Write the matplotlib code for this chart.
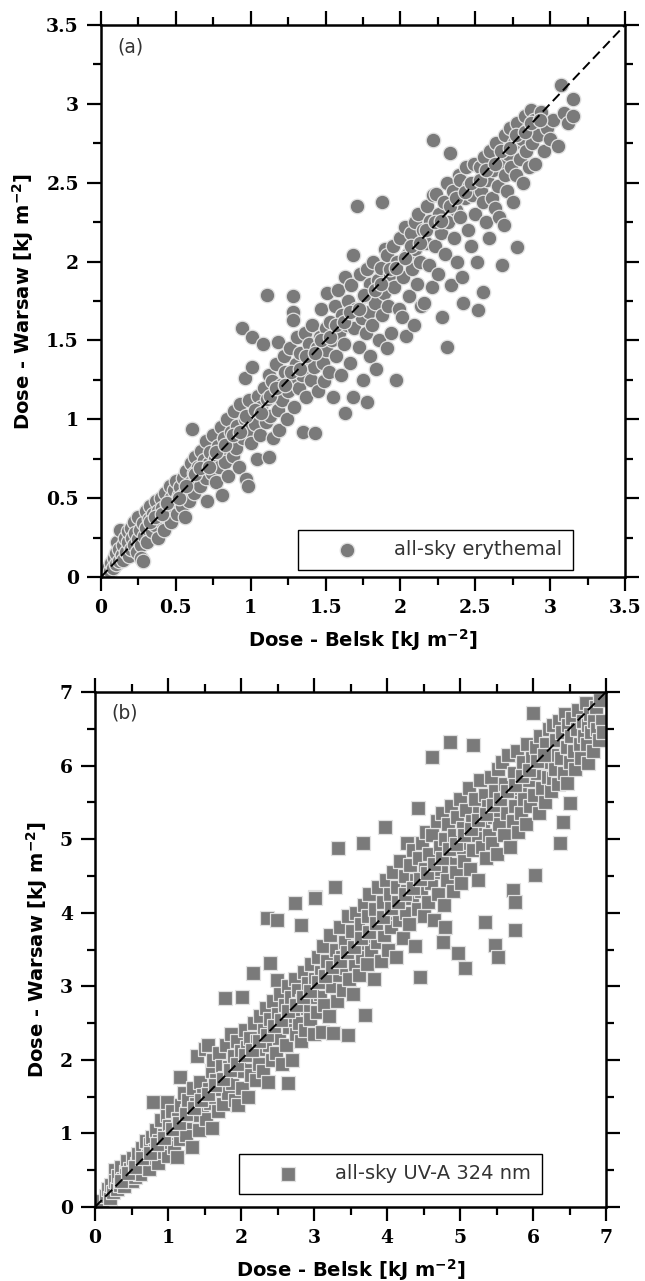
import matplotlib
matplotlib.use("Agg")
import matplotlib.pyplot as plt
from matplotlib.ticker import MultipleLocator, FuncFormatter

# ---------------- Panel (a): all-sky erythemal ----------------
ery_belsk = [
    0.02,0.04,0.05,0.06,0.07,0.08,0.09,0.10,0.10,0.11,0.12,0.12,0.13,0.14,0.15,0.15,0.16,0.17,0.18,0.18,0.19,0.20,0.20,0.21,0.22,0.22,0.23,0.24,0.25,0.25,0.26,0.27,0.27,0.28,0.28,0.29,0.30,0.30,
    0.31,0.32,0.33,0.34,0.35,0.36,0.37,0.38,0.38,0.39,0.40,0.41,0.42,0.42,0.43,0.44,0.45,0.46,0.47,0.47,0.48,0.49,0.50,0.50,0.51,0.52,0.53,0.54,0.55,0.55,0.56,0.57,0.58,0.59,0.60,0.60,
    0.61,0.62,0.62,0.63,0.64,0.65,0.66,0.67,0.68,0.69,0.70,0.70,0.71,0.72,0.73,0.74,0.75,0.76,0.77,0.78,0.79,0.80,0.81,0.81,0.82,0.83,0.84,0.85,0.86,0.87,0.88,0.89,0.90,
    0.91,0.92,0.93,0.94,0.95,0.96,0.96,0.97,0.98,0.98,0.99,1.00,1.01,1.01,1.02,1.03,1.04,1.05,1.06,1.07,1.08,1.09,1.10,1.11,1.11,1.12,1.12,1.13,1.14,1.15,1.16,1.17,1.18,1.18,1.19,1.20,
    1.21,1.22,1.23,1.24,1.25,1.26,1.27,1.28,1.28,1.28,1.29,1.30,1.31,1.32,1.33,1.34,1.35,1.36,1.37,1.38,1.39,1.40,1.41,1.42,1.43,1.44,1.45,1.46,1.47,1.48,1.49,1.50,1.50,
    1.51,1.52,1.53,1.54,1.55,1.56,1.57,1.58,1.59,1.60,1.61,1.62,1.63,1.63,1.64,1.65,1.66,1.67,1.68,1.68,1.69,1.70,1.71,1.72,1.73,1.74,1.75,1.76,1.77,1.78,1.78,1.79,1.80,1.80,
    1.81,1.82,1.83,1.84,1.85,1.86,1.87,1.88,1.88,1.89,1.90,1.91,1.91,1.92,1.93,1.94,1.95,1.96,1.97,1.98,1.99,2.00,2.01,2.02,2.03,2.04,2.05,2.06,2.07,2.08,2.09,2.10,2.10,
    2.11,2.12,2.13,2.14,2.15,2.16,2.17,2.18,2.19,2.20,2.21,2.22,2.22,2.23,2.24,2.25,2.26,2.27,2.28,2.29,2.30,2.31,2.31,2.32,2.33,2.34,2.35,2.36,2.37,2.38,2.39,2.40,2.40,
    2.41,2.42,2.43,2.44,2.45,2.46,2.47,2.48,2.49,2.50,2.51,2.52,2.53,2.54,2.55,2.55,2.56,2.57,2.58,2.59,2.60,2.61,2.62,2.63,2.64,2.65,2.66,2.67,2.68,2.69,2.70,2.70,
    2.71,2.72,2.73,2.74,2.75,2.76,2.77,2.78,2.78,2.80,2.81,2.82,2.83,2.84,2.85,2.86,2.87,2.88,2.89,2.90,2.92,2.94,2.96,2.98,3.00,3.02,3.05,3.07,3.09,3.12,3.15,3.15,
    0.33,0.36,0.41,0.44,0.52,0.57,0.63,0.66,0.72,0.77,0.83,0.88,0.93,0.97,1.03,1.07,1.13,1.17,1.23,1.27,1.33,1.37,1.43,1.47,1.53,1.57,1.62,1.66,1.72,1.76,1.83,1.87,1.93,1.97,2.03,2.07,2.13,2.17,2.23,2.27,2.33,2.37,2.43,2.47,2.53,2.57,2.63,2.67,2.73,2.77,2.83,2.87,2.93,
]
ery_warsaw = [
    0.02,0.03,0.06,0.04,0.09,0.06,0.12,0.08,0.15,0.22,0.10,0.18,0.30,0.14,0.20,0.11,0.25,0.16,0.22,0.29,0.13,0.18,0.31,0.25,0.20,0.35,0.28,0.16,0.24,0.38,0.30,0.20,0.12,0.10,0.34,0.26,0.42,0.31,
    0.22,0.37,0.45,0.29,0.40,0.33,0.48,0.25,0.42,0.36,0.50,0.44,0.30,0.39,0.53,0.46,0.41,0.58,0.35,0.50,0.44,0.55,0.61,0.48,0.40,0.52,0.57,0.45,0.63,0.52,0.38,0.67,0.55,0.48,0.60,0.72,
    0.94,0.66,0.53,0.76,0.62,0.70,0.58,0.80,0.68,0.74,0.63,0.86,0.48,0.72,0.79,0.66,0.90,0.75,0.60,0.83,0.70,0.95,0.52,0.78,0.88,0.73,1.00,0.64,0.85,0.92,0.77,1.05,0.82,
    0.96,0.70,1.10,1.58,0.88,1.26,1.00,0.62,0.58,0.93,1.12,0.85,1.52,1.33,1.04,0.97,0.75,1.15,0.90,1.08,1.48,1.20,0.98,1.79,1.13,1.28,0.76,1.02,1.24,0.88,1.17,1.35,1.49,1.06,0.93,1.22,
    1.12,1.40,1.30,1.00,1.18,1.45,1.25,1.78,1.68,1.63,1.08,1.35,1.52,1.20,1.42,1.28,0.92,1.55,1.14,1.38,1.48,1.25,1.60,1.33,0.91,1.45,1.18,1.52,1.70,1.36,1.24,1.58,1.44,
    1.80,1.30,1.62,1.50,1.14,1.72,1.40,1.82,1.55,1.28,1.66,1.48,1.04,1.90,1.60,1.75,1.36,1.85,2.04,1.14,1.58,1.70,2.35,1.46,1.92,1.64,1.25,1.78,1.55,1.11,1.95,1.68,1.40,1.86,
    1.60,2.00,1.74,1.32,1.88,1.50,1.96,2.38,1.66,1.80,2.08,2.04,1.45,1.72,1.92,1.55,2.10,1.84,1.25,2.00,1.70,2.15,1.65,1.90,2.22,1.53,2.05,1.78,2.18,1.95,1.60,2.25,2.08,
    1.86,2.30,2.00,1.72,2.20,1.74,2.12,2.35,1.98,2.26,1.84,2.77,2.42,2.10,2.43,1.92,2.30,2.18,1.65,2.38,2.05,1.46,2.50,2.25,2.69,1.85,2.45,2.15,2.33,2.00,2.55,2.52,2.28,
    1.90,1.74,2.40,2.60,2.20,2.48,2.10,2.42,2.62,2.30,2.00,1.69,2.60,2.45,1.81,2.38,2.66,2.25,2.52,2.15,2.70,2.40,2.58,2.34,2.75,2.48,2.28,2.62,1.98,2.23,2.80,2.55,
    2.45,2.68,2.85,2.60,2.38,2.75,2.55,2.09,2.88,2.65,2.78,2.50,2.92,2.70,2.84,2.60,2.96,2.75,2.90,2.62,2.80,2.95,2.70,2.85,2.78,2.90,2.73,3.12,2.94,2.88,3.03,2.92,
    0.35,0.38,0.40,0.47,0.50,0.58,0.65,0.69,0.70,0.79,0.84,0.90,0.92,1.02,1.06,1.04,1.15,1.20,1.22,1.30,1.32,1.40,1.42,1.50,1.52,1.60,1.62,1.68,1.70,1.79,1.82,1.86,1.95,1.96,2.02,2.10,2.12,2.20,2.25,2.26,2.35,2.40,2.44,2.50,2.52,2.58,2.62,2.70,2.72,2.80,2.82,2.88,2.90,
]

# ---------------- Panel (b): all-sky UV-A 324 nm ----------------
uva_belsk = [
    0.10,0.15,0.18,0.20,0.22,0.25,0.27,0.28,0.30,0.32,0.34,0.36,0.38,0.40,0.42,0.44,0.46,0.48,0.50,0.52,0.54,0.55,0.57,0.59,0.60,
    0.62,0.64,0.66,0.68,0.70,0.72,0.74,0.76,0.78,0.79,0.80,0.82,0.84,0.86,0.88,0.90,0.92,0.94,0.96,0.98,0.99,1.00,1.02,1.04,1.06,1.08,1.10,1.12,1.14,1.16,1.16,1.18,
    1.20,1.22,1.24,1.26,1.28,1.30,1.33,1.34,1.36,1.38,1.40,1.42,1.44,1.46,1.48,1.50,1.52,1.55,1.56,1.58,1.60,1.60,1.62,1.64,1.66,1.68,1.70,1.72,1.74,1.76,1.78,1.78,
    1.80,1.82,1.84,1.86,1.88,1.90,1.92,1.94,1.96,1.98,2.00,2.01,2.02,2.05,2.06,2.08,2.10,2.12,2.14,2.16,2.16,2.18,2.20,2.22,2.24,2.26,2.28,2.30,2.32,2.34,2.36,2.37,2.38,2.40,2.40,
    2.42,2.44,2.46,2.48,2.49,2.49,2.50,2.52,2.54,2.56,2.58,2.60,2.62,2.64,2.65,2.66,2.68,2.70,2.72,2.74,2.74,2.76,2.78,2.80,2.82,2.82,2.84,2.86,2.88,2.90,2.92,2.94,2.96,2.98,3.00,
    3.01,3.01,3.02,3.04,3.06,3.08,3.10,3.11,3.12,3.14,3.16,3.18,3.20,3.22,3.24,3.26,3.28,3.29,3.30,3.32,3.33,3.34,3.36,3.38,3.40,3.42,3.44,3.46,3.47,3.48,3.50,3.52,3.54,3.56,3.58,
    3.60,3.62,3.64,3.66,3.67,3.68,3.70,3.70,3.72,3.74,3.76,3.78,3.80,3.82,3.84,3.86,3.88,3.90,3.92,3.94,3.96,3.97,3.98,4.00,4.02,4.04,4.06,4.08,4.10,4.12,4.14,4.16,4.18,4.20,
    4.22,4.24,4.26,4.27,4.28,4.30,4.32,4.34,4.36,4.38,4.40,4.42,4.42,4.44,4.45,4.46,4.48,4.50,4.52,4.54,4.56,4.58,4.60,4.61,4.62,4.64,4.66,4.68,4.70,4.72,4.74,4.76,4.77,4.78,4.79,4.80,
    4.82,4.84,4.86,4.86,4.88,4.90,4.92,4.94,4.96,4.97,4.98,5.00,5.02,5.04,5.06,5.07,5.08,5.10,5.12,5.14,5.16,5.18,5.18,5.20,5.22,5.24,5.26,5.28,5.30,5.32,5.34,5.34,5.36,5.38,5.40,
    5.42,5.44,5.46,5.48,5.48,5.50,5.52,5.52,5.54,5.56,5.58,5.60,5.62,5.64,5.66,5.68,5.70,5.72,5.73,5.74,5.75,5.75,5.76,5.78,5.80,5.82,5.84,5.86,5.88,5.90,5.92,5.94,5.96,5.98,6.00,
    6.02,6.03,6.04,6.06,6.08,6.10,6.12,6.14,6.16,6.18,6.20,6.22,6.24,6.26,6.27,6.28,6.30,6.32,6.34,6.36,6.37,6.38,6.40,6.41,6.42,6.44,6.46,6.47,6.48,6.50,6.51,6.52,6.54,6.56,6.58,6.60,6.62,6.64,6.66,6.68,6.70,6.72,6.74,6.75,6.76,6.78,6.80,6.82,6.84,6.86,6.88,6.90,6.92,6.94,6.96,
    0.35,0.45,0.55,0.65,0.75,0.85,0.95,1.05,1.15,1.25,1.35,1.45,1.55,1.65,1.75,1.85,1.95,2.05,2.15,2.25,2.35,2.45,2.55,2.65,2.75,2.85,2.95,3.05,3.15,3.25,3.35,3.45,3.55,3.65,3.75,3.85,3.95,4.05,4.15,4.25,4.35,4.45,4.55,4.65,4.75,4.85,4.95,5.05,5.15,5.25,5.35,5.45,5.55,5.65,5.75,5.85,5.95,6.05,6.15,
]
uva_warsaw = [
    0.08,0.15,0.25,0.12,0.30,0.20,0.50,0.35,0.25,0.42,0.30,0.55,0.38,0.28,0.48,0.62,0.40,0.52,0.35,0.66,0.46,0.41,0.58,0.72,0.50,
    0.45,0.80,0.62,0.56,0.90,0.70,0.52,0.85,0.95,1.43,0.66,0.78,1.05,0.60,0.90,1.18,0.75,0.98,0.85,1.25,1.43,0.70,1.10,0.95,1.30,0.82,1.05,0.68,1.20,1.77,0.92,1.38,
    1.10,1.55,0.98,1.30,1.45,1.15,0.82,1.62,1.25,1.40,2.05,1.05,1.70,1.35,1.52,2.15,1.20,2.20,1.60,1.42,1.07,1.85,2.00,1.50,1.72,1.30,2.10,1.60,1.92,1.40,2.84,1.75,
    2.20,1.55,1.90,2.35,1.68,2.05,1.45,2.25,1.39,1.85,2.12,2.85,1.62,2.40,1.95,2.18,1.50,2.30,1.80,3.18,2.05,2.50,1.72,2.25,1.95,2.60,2.15,1.85,2.40,2.70,3.93,1.70,2.20,3.31,2.55,
    2.00,2.80,2.35,2.10,3.90,3.08,2.62,2.30,2.90,1.95,2.50,2.75,2.20,3.00,1.68,2.45,2.85,2.00,2.60,4.13,3.10,2.35,2.95,2.50,3.83,2.25,2.80,3.20,2.40,2.70,3.05,2.55,3.30,2.85,2.35,
    4.22,4.20,3.10,2.65,3.40,2.90,3.20,2.38,3.55,2.75,3.05,3.35,2.60,3.70,3.00,2.36,3.25,4.35,3.50,2.80,4.88,3.15,3.80,3.40,2.95,3.60,3.25,3.95,2.34,3.10,3.45,3.75,2.90,3.30,4.00,
    3.55,3.15,3.85,3.40,4.95,4.10,2.61,3.65,3.30,3.95,4.25,3.50,3.75,3.10,4.05,3.60,4.35,3.85,3.35,4.15,3.70,5.16,4.45,3.95,3.50,4.25,3.80,4.55,4.05,3.40,4.35,3.90,4.70,4.15,
    3.65,4.50,4.00,4.95,4.30,3.85,4.65,4.20,4.85,3.55,4.45,5.43,4.05,4.75,3.13,4.30,4.95,3.95,4.60,5.10,4.15,4.80,4.40,6.12,5.05,3.90,4.55,5.25,4.25,4.90,4.60,5.35,3.60,4.10,3.80,5.00,
    4.45,5.20,6.32,4.75,5.45,4.30,5.05,4.55,5.30,3.45,4.85,5.55,4.40,5.15,4.70,3.25,5.40,4.95,5.70,4.60,5.25,6.28,4.85,5.55,5.05,4.45,5.35,5.80,4.90,5.20,3.87,5.60,4.75,5.45,5.05,
    5.85,4.95,5.30,3.56,5.65,4.80,3.40,5.95,5.20,5.50,6.05,5.05,5.75,5.35,6.15,4.90,5.60,5.25,4.31,5.90,4.14,3.76,5.45,6.20,5.10,5.70,5.35,6.05,5.55,5.20,6.30,5.80,5.45,6.10,6.72,
    5.60,4.51,6.25,5.90,5.35,6.40,5.70,6.05,5.50,6.30,5.85,6.50,5.65,6.15,5.83,6.55,5.95,6.35,5.75,6.60,4.95,6.10,6.45,5.23,5.90,6.70,6.25,5.76,6.55,6.05,5.49,6.40,6.65,6.20,5.95,6.50,6.75,6.30,6.10,6.60,6.40,6.85,6.30,6.03,6.55,6.70,6.45,6.20,6.60,6.80,6.50,6.35,6.89,6.60,6.45,
    0.36,0.46,0.55,0.66,0.74,0.86,0.94,1.06,1.14,1.26,1.34,1.46,1.54,1.66,1.74,1.86,1.94,2.06,2.14,2.26,2.34,2.46,2.54,2.66,2.74,2.86,2.94,3.06,3.14,3.26,3.34,3.46,3.54,3.66,3.74,3.86,3.94,4.06,4.14,4.26,4.34,4.46,4.54,4.66,4.74,4.86,4.94,5.06,5.14,5.26,5.34,5.46,5.54,5.66,5.74,5.86,5.94,6.06,6.14,
]

panel_limits = [3.5, 7.0]
panel_major = [0.5, 1.0]
panel_minor = [0.25, 0.5]
panel_tags = ["(a)", "(b)"]
legend_labels = ["all-sky erythemal", "all-sky UV-A 324 nm"]
xlabel = "Dose - Belsk [kJ m$^{\\mathbf{-2}}$]"
ylabel = "Dose - Warsaw [kJ m$^{\\mathbf{-2}}$]"

plt.rcParams["mathtext.default"] = "bf"
plt.rcParams["mathtext.fontset"] = "dejavusans"
# tick labels: bold serif
plt.rcParams["font.family"] = ["DejaVu Serif"]
plt.rcParams["font.weight"] = "bold"

fig = plt.figure(figsize=(6.45, 12.81), dpi=100)
ax_a = fig.add_axes([101/645, 1 - 577/1281, 524/645, 552/1281])
ax_b = fig.add_axes([95/645, 1 - 1207/1281, 511/645, 515/1281])

face = "#7a7a7a"
edge = "#e0e0e0"

datasets = [(ery_belsk, ery_warsaw, "o"), (uva_belsk, uva_warsaw, "s")]
legend_anchor = [((573 - 101) / 524, (577 - 570) / 552),
                 ((542 - 95) / 511, (1207 - 1194) / 515)]

fmt = FuncFormatter(lambda v, p: "%g" % round(v, 3))

for i, ax in enumerate([ax_a, ax_b]):
    xs, ys, mk = datasets[i]
    lim = panel_limits[i]
    ax.scatter(xs, ys, s=110 if mk == "o" else 100, marker=mk, c=face,
               edgecolors=edge, linewidths=0.9, zorder=2, label=legend_labels[i])
    ax.plot([0, lim], [0, lim], color="black", ls=(0, (5, 2.5)), lw=1.4, zorder=3)
    ax.set_xlim(0, lim)
    ax.set_ylim(0, lim)
    ax.xaxis.set_major_locator(MultipleLocator(panel_major[i]))
    ax.yaxis.set_major_locator(MultipleLocator(panel_major[i]))
    ax.xaxis.set_minor_locator(MultipleLocator(panel_minor[i]))
    ax.yaxis.set_minor_locator(MultipleLocator(panel_minor[i]))
    ax.xaxis.set_major_formatter(fmt)
    ax.yaxis.set_major_formatter(fmt)
    ax.tick_params(which="both", direction="out", top=True, right=True,
                   labeltop=False, labelright=False, width=1.6, color="black",
                   labelsize=13.5)
    ax.tick_params(which="major", length=10, pad=6)
    ax.tick_params(which="minor", length=6)
    for sp in ax.spines.values():
        sp.set_linewidth(1.8)
    ax.set_xlabel(xlabel, fontsize=14, fontweight="bold", family="DejaVu Sans", labelpad=7)
    ax.set_ylabel(ylabel, fontsize=14, fontweight="bold", family="DejaVu Sans", labelpad=7)
    ax.text(0.032, 0.96, panel_tags[i], transform=ax.transAxes, fontsize=13.5,
            color="#333333", va="center", ha="left", family="DejaVu Sans", fontweight="normal")
    leg = ax.legend(loc="lower right", bbox_to_anchor=legend_anchor[i], borderaxespad=0,
                    frameon=True, fancybox=False, edgecolor="black", framealpha=1,
                    prop={"family": "DejaVu Sans", "weight": "normal", "size": 14},
                    handletextpad=0.5, borderpad=0.55, handlelength=3.9, markerscale=1.0)
    leg.get_frame().set_linewidth(1.0)
    for t in leg.get_texts():
        t.set_color("#333333")

fig.savefig("out.png", dpi=100)
